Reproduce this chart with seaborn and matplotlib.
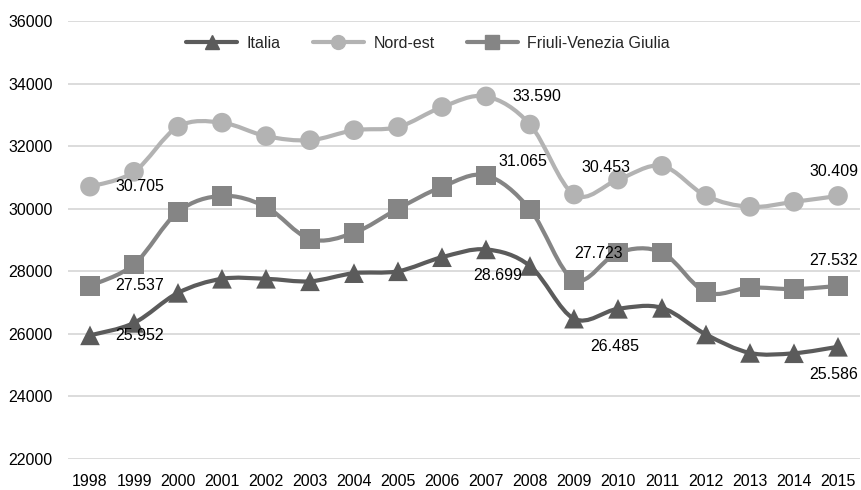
import numpy as np
import pandas as pd
import matplotlib
matplotlib.use("Agg")
import matplotlib.pyplot as plt
from matplotlib.path import Path
from matplotlib.patches import PathPatch
from matplotlib.lines import Line2D
import seaborn as sns

years = list(range(1998, 2016))
italia = [25952, 26350, 27310, 27760, 27760, 27680, 27940, 28000, 28450, 28699,
          28170, 26485, 26800, 26830, 25980, 25390, 25380, 25586]
nord_est = [30705, 31180, 32620, 32750, 32320, 32190, 32510, 32610, 33250, 33590,
            32690, 30453, 30930, 31370, 30410, 30060, 30220, 30409]
friuli = [27537, 28220, 29900, 30410, 30060, 29030, 29230, 30000, 30700, 31065,
          29980, 27723, 28600, 28600, 27330, 27480, 27430, 27532]
series_names = ["Italia", "Nord-est", "Friuli-Venezia Giulia"]
y_ticks = list(range(22000, 36001, 2000))

colors = {"Italia": "#5b5b5b", "Nord-est": "#b3b3b3", "Friuli-Venezia Giulia": "#858585"}
markers = {"Italia": "^", "Nord-est": "o", "Friuli-Venezia Giulia": "s"}

df = pd.DataFrame({
    "year": years * 3,
    "value": italia + nord_est + friuli,
    "series": [s for s in series_names for _ in years],
})

sns.set_theme(style="white")
plt.rcParams["font.family"] = ["Liberation Sans", "DejaVu Sans"]
FS = 11.5

fig = plt.figure(figsize=(8.62, 4.90), dpi=100)
ax = fig.add_axes([68 / 862, 1 - 459 / 490, (860 - 68) / 862, (459 - 21) / 490])

# smoothed lines (Bezier through the data points)
def smooth_path(xs, ys):
    xs = np.asarray(xs, float); ys = np.asarray(ys, float)
    n = len(xs)
    verts = [(xs[0], ys[0])]
    codes = [Path.MOVETO]
    for i in range(n - 1):
        p0 = np.array([xs[max(i - 1, 0)], ys[max(i - 1, 0)]])
        p1 = np.array([xs[i], ys[i]])
        p2 = np.array([xs[i + 1], ys[i + 1]])
        p3 = np.array([xs[min(i + 2, n - 1)], ys[min(i + 2, n - 1)]])
        c1 = p1 + (p2 - p0) / 6.0
        c2 = p2 - (p3 - p1) / 6.0
        verts += [tuple(c1), tuple(c2), tuple(p2)]
        codes += [Path.CURVE4] * 3
    return Path(verts, codes)

for name in ["Nord-est", "Friuli-Venezia Giulia", "Italia"]:
    sub = df[df.series == name]
    ax.add_patch(PathPatch(smooth_path(sub.year, sub.value), facecolor="none",
                           edgecolor=colors[name], lw=3.0, zorder=2, capstyle="round"))

sns.scatterplot(data=df, x="year", y="value", hue="series", style="series",
                palette=colors, markers=markers, s=200, linewidth=0,
                legend=False, ax=ax, zorder=3)

ax.set_xlim(1997.5, 2015.5)
ax.set_ylim(22000, 36000)
ax.set_xticks(years)
ax.set_xticklabels([str(y) for y in years])
ax.set_yticks(y_ticks)
ax.set_yticklabels([str(t) for t in y_ticks])
ax.set_xlabel("")
ax.set_ylabel("")
ax.tick_params(axis="both", length=0, labelsize=FS, colors="#000000")
ax.tick_params(axis="y", pad=11)
ax.tick_params(axis="x", pad=11)
ax.grid(axis="y", color="#d9d9d9", lw=1.3)
ax.set_axisbelow(True)
for sp in ax.spines.values():
    sp.set_visible(False)

# data labels: offsets in pixels (dx, dy, ha)
offsets = {
    ("Nord-est", 1998): (25, 0, "left"),
    ("Friuli-Venezia Giulia", 1998): (25, 0, "left"),
    ("Italia", 1998): (25, 0, "left"),
    ("Nord-est", 2007): (26, 0, "left"),
    ("Friuli-Venezia Giulia", 2007): (12, 14, "left"),
    ("Italia", 2007): (12, -26, "center"),
    ("Nord-est", 2009): (7, 27, "left"),
    ("Friuli-Venezia Giulia", 2009): (0, 26, "left"),
    ("Italia", 2009): (16, -28, "left"),
    ("Nord-est", 2015): (20, 24, "right"),
    ("Friuli-Venezia Giulia", 2015): (20, 25, "right"),
    ("Italia", 2015): (20, -28, "right"),
}
for (name, yr), (dx, dy, ha) in offsets.items():
    v = df[(df.series == name) & (df.year == yr)].value.iloc[0]
    txt = f"{v:,}".replace(",", ".")
    ax.annotate(txt, (yr, v), xytext=(dx * 0.72, dy * 0.72), textcoords="offset points",
                ha=ha, va="center", fontsize=FS, color="#000000", zorder=4)

handles = [Line2D([0], [0], color=colors[n], lw=3, marker=markers[n], markersize=10)
           for n in series_names]
fig.legend(handles, series_names, loc="center", bbox_to_anchor=(428 / 862, 1 - 43 / 490),
           ncol=3, frameon=False, fontsize=FS, handlelength=3.2, handletextpad=0.6,
           columnspacing=2.0)

fig.savefig("out.png", dpi=100, facecolor="white")
